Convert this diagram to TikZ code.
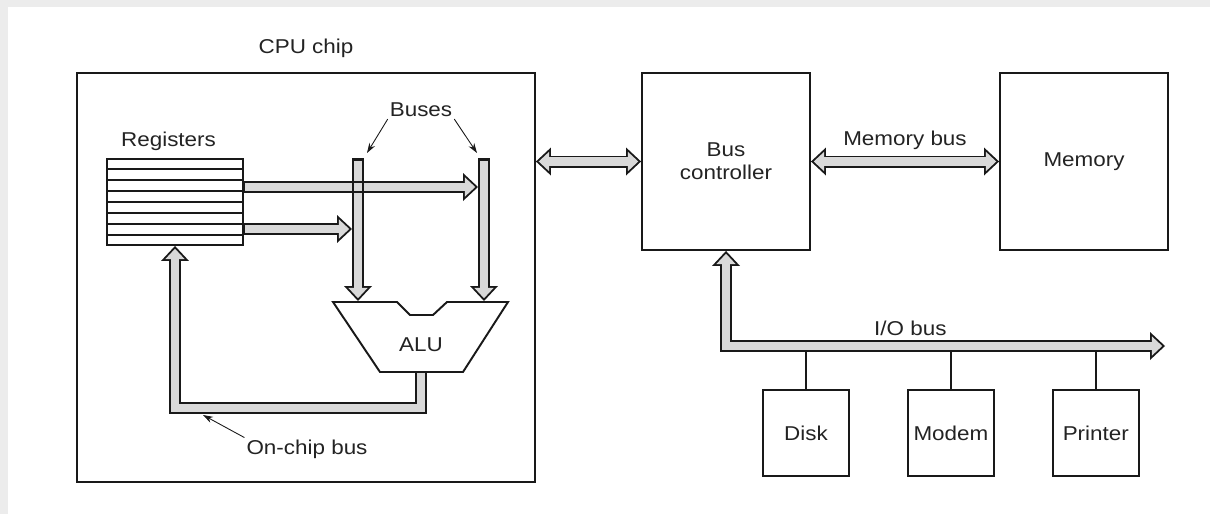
\documentclass[tikz,border=0pt]{standalone}
\usepackage{fontspec}
\setmainfont{Liberation Sans}[FakeStretch=1.12]
\usetikzlibrary{arrows.meta,positioning,calc,backgrounds}
\definecolor{lineclr}{RGB}{25,25,25}
\definecolor{txtclr}{RGB}{35,35,35}
\definecolor{busclr}{RGB}{217,217,217}
\definecolor{edgeclr}{RGB}{236,236,236}
\tikzset{
  blk/.style={rectangle,draw=lineclr,fill=white,line width=1.1pt,inner sep=0pt,
    font=\fontsize{11.4}{13}\selectfont,align=center,text=txtclr},
  dev/.style={blk,minimum width=17.2mm,minimum height=17.2mm},
  chip/.style={rectangle,draw=lineclr,line width=1.1pt,inner sep=0pt},
  lbl/.style={font=\fontsize{11.4}{13}\selectfont,text=txtclr,inner sep=1pt},
  busout/.style={lineclr,line width=2.4mm,line join=miter,
    >={Triangle[length=3mm,width=5.6mm,line width=0pt]}},
  busin/.style={busclr,line width=1.64mm,line join=miter,
    shorten <=0.56mm,shorten >=0.56mm,
    >={Triangle[length=2.06mm,width=3.85mm,line width=0pt]}},
  wire/.style={draw=lineclr,line width=1.1pt},
  ptr/.style={draw=lineclr,line width=0.5pt,-{Stealth[length=2mm,width=1.3mm]}},
}
\begin{document}
\begin{tikzpicture}[x=0.02cm,y=-0.02cm]
  \useasboundingbox (0,0) rectangle (1210,514);

  % blocks
  \node[chip,minimum width=91.6mm,minimum height=81.8mm] (cpu) at (306,277.5) {};
  \node[lbl,above=2.4mm of cpu] (cpulbl) {CPU chip};
  \node[blk,minimum width=33.6mm,minimum height=35.4mm] (bc)  at (726,161.5) {Bus\\controller};
  \node[blk,minimum width=33.6mm,minimum height=35.4mm] (mem) at (1084,161.5) {Memory};
  \node[blk,minimum width=27.2mm,minimum height=17.2mm] (regs) at (175,202) {};
  \foreach \k in {1,...,7}
    \draw[line width=0.9pt,lineclr] ($(regs.north west)!\k/8!(regs.south west)$)
      -- ($(regs.north east)!\k/8!(regs.south east)$);
  \node[lbl,above=1mm of regs,xshift=-1.3mm] (reglbl) {Registers};

  % ALU
  \draw[wire,fill=white] (333,302) -- (397,302) -- (410,315) -- (433,315)
    -- (447,302) -- (508,302) -- (463,372) -- (380,372) -- cycle;
  \node[lbl] (alu) at (421,345) {ALU};

  % I/O devices
  \node[dev] (disk) at (806,433) {Disk};
  \node[dev,right=11.4mm of disk]  (modem)   {Modem};
  \node[dev,right=11.4mm of modem] (printer) {Printer};

  % bus ends
  \coordinate (b1top)  at (358,158);
  \coordinate (b1bot)  at (358,301);
  \coordinate (b2top)  at (484,158);
  \coordinate (b2bot)  at (484,301);
  \coordinate (alubot) at (421,370);
  \coordinate (ioend)  at (1165,346);
  \coordinate (r1) at ([xshift=-0.4mm,yshift=3mm]regs.east);
  \coordinate (r2) at ([xshift=-0.4mm,yshift=-5.4mm]regs.east);

  % labels
  \node[lbl] (buses) at (421,110) {Buses};
  \coordinate (b1tag) at (367,153);
  \coordinate (b2tag) at (477,153);
  \draw[ptr] (buses.south west) -- (b1tag);
  \draw[ptr] (buses.south east) -- (b2tag);
  \node[lbl] (oblbl) at (307,449) {On-chip bus};
  \coordinate (obtag) at (203,415);
  \draw[ptr] (oblbl.north west) -- (obtag);
  \path (bc.east) -- (mem.west) node[lbl,midway,above=1.9mm] (mblbl) {Memory bus};
  \path (bc.south) |- (ioend) node[lbl,pos=0.71,above=1.6mm] (iolbl) {I/O bus};

  \begin{scope}[on background layer]
    \fill[edgeclr] (0,0) rectangle (1210,514);
    \fill[white] (8,7) rectangle (1210,514);
    \foreach \d in {disk,modem,printer}
      \draw[wire] (\d.north) -- (\d.north |- ioend);
    \foreach \p in {busout,busin}{
      \draw[\p,->] (b1top) -- (b1bot);
      \draw[\p,->] (b2top) -- (b2bot);
    }
    \foreach \p in {busout,busin}{
      \draw[\p,->] (r1) -- ($(b2top |- r1)+(-6,0)$);
      \draw[\p,->] (r2) -- ($(b1top |- r2)+(-6,0)$);
      \draw[\p,->] (alubot) -- ++(0,38) -| (regs.south);
      \draw[\p,<->] (cpu.east |- bc.west) -- (bc.west);
      \draw[\p,<->] (bc.east) -- (mem.west);
      \draw[\p,<->] (bc.south) |- (ioend);
    }
    % bus 1 edges show through the crossing
    \foreach \s in {-1,1}
      \draw[wire] ($(b1top)+(\s*5.05,0)$) -- ($(b1bot)+(\s*5.05,-15)$);
  \end{scope}
\end{tikzpicture}
\end{document}
